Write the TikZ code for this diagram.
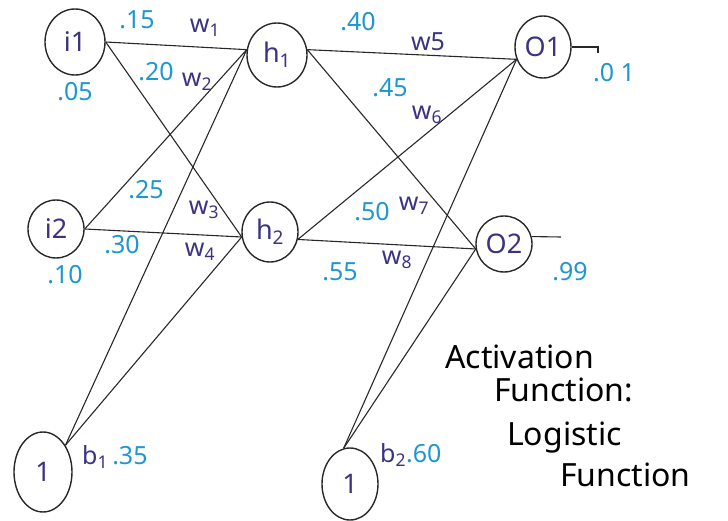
\documentclass[tikz,border=0pt]{standalone}
\usepackage{fontspec}
\setmainfont{Noto Sans}
\usetikzlibrary{shapes.geometric}
\definecolor{numblue}{RGB}{30,150,210}
\definecolor{wnavy}{RGB}{60,50,130}
\definecolor{inkline}{RGB}{40,40,40}
\tikzset{
  neuron/.style={ellipse,draw=inkline,line width=1.4pt,inner sep=0pt,text=wnavy,font=\fontsize{27}{29}\selectfont},
  wire/.style={draw=inkline,line width=1.1pt},
  num/.style={text=numblue,font=\fontsize{25}{27}\selectfont,inner sep=0pt},
  wlab/.style={text=wnavy,font=\fontsize{25}{27}\selectfont,inner sep=0pt},
  note/.style={text=black,font=\fontsize{32}{34}\selectfont,inner sep=0pt,anchor=west}
}
\begin{document}
\begin{tikzpicture}[x=1pt,y=-1pt]
\useasboundingbox (0,0) rectangle (728,521);
% neurons
\node[neuron,minimum width=60pt,minimum height=66pt] (i1) at (75,42) {i1};
\node[neuron,minimum width=56pt,minimum height=58pt] (i2) at (56,229) {i2};
\node[neuron,minimum width=58pt,minimum height=80pt] (b1) at (43,472) {1};
\node[neuron,minimum width=60pt,minimum height=64pt] (h1) at (277,55) {h\textsubscript{1}};
\node[neuron,minimum width=56pt,minimum height=60pt] (h2) at (270,232) {h\textsubscript{2}};
\node[neuron,minimum width=56pt,minimum height=72pt] (b2) at (350,484) {1};
\node[neuron,minimum width=56pt,minimum height=62pt] (o1) at (543,47) {O1};
\node[neuron,minimum width=56pt,minimum height=56pt] (o2) at (504,244) {O2};
% connectors layer 1
\draw[wire] (i1.east) -- (h1.170);
\draw[wire] (i1.east) -- (h2.190);
\draw[wire] (i2.east) -- (h1.170);
\draw[wire] (i2.east) -- (h2.190);
\draw[wire] (b1.50) -- (h1.170);
\draw[wire] (b1.50) -- (h2.190);
% connectors layer 2
\draw[wire] (h1.10) -- (o1.205);
\draw[wire] (h1.10) -- (o2.190);
\draw[wire] (h2.-15) -- (o1.205);
\draw[wire] (h2.-15) -- (o2.190);
\draw[wire] (b2.100) -- (o1.205);
\draw[wire] (b2.100) -- (o2.190);
% outputs
\coordinate (o1out) at (598,47);
\coordinate (o1hook) at (598,53);
\coordinate (o2out) at (561,237);
\draw[wire] (o1.east) -- (o1out) -- (o1hook);
\draw[wire] (o2.15) -- (o2out);
% weights
\node[num] (n15) at (137,20) {.15};
\node[wlab] (w1) at (205,28) {w\textsubscript{1}};
\node[num] (n20) at (156,72) {.20};
\node[wlab] (w2) at (197,82) {w\textsubscript{2}};
\node[num] (n05) at (75,92) {.05};
\node[num] (n25) at (146,190) {.25};
\node[wlab] (w3) at (204,210) {w\textsubscript{3}};
\node[num] (n30) at (122,245) {.30};
\node[wlab] (w4) at (200,252) {w\textsubscript{4}};
\node[num] (n10) at (65,275) {.10};
\node[num] (n40) at (358,22) {.40};
\node[wlab] (w5) at (428,42) {w5};
\node[num] (n45) at (390,88) {.45};
\node[wlab] (w6) at (427,115) {w\textsubscript{6}};
\node[num] (n50) at (372,212) {.50};
\node[wlab] (w7) at (414,206) {w\textsubscript{7}};
\node[num] (n55) at (340,272) {.55};
\node[wlab] (w8) at (397,260) {w\textsubscript{8}};
\node[num] (n01) at (614,73) {.0 1};
\node[num] (n99) at (570,272) {.99};
\node[inner sep=0pt,anchor=west,font=\fontsize{25}{27}\selectfont] (b1lab) at (82,457) {\textcolor{wnavy}{b\textsubscript{1}}\,\textcolor{numblue}{.35}};
\node[inner sep=0pt,anchor=west,font=\fontsize{25}{27}\selectfont] (b2lab) at (380,455) {\textcolor{wnavy}{b\textsubscript{2}}\textcolor{numblue}{.60}};
% note
\node[note] (t1) at (445,357) {Activation};
\node[note] (t2) at (494,390) {Function:};
\node[note] (t3) at (507,438) {Logistic};
\node[note] (t4) at (560,475) {Function};
\end{tikzpicture}
\end{document}
